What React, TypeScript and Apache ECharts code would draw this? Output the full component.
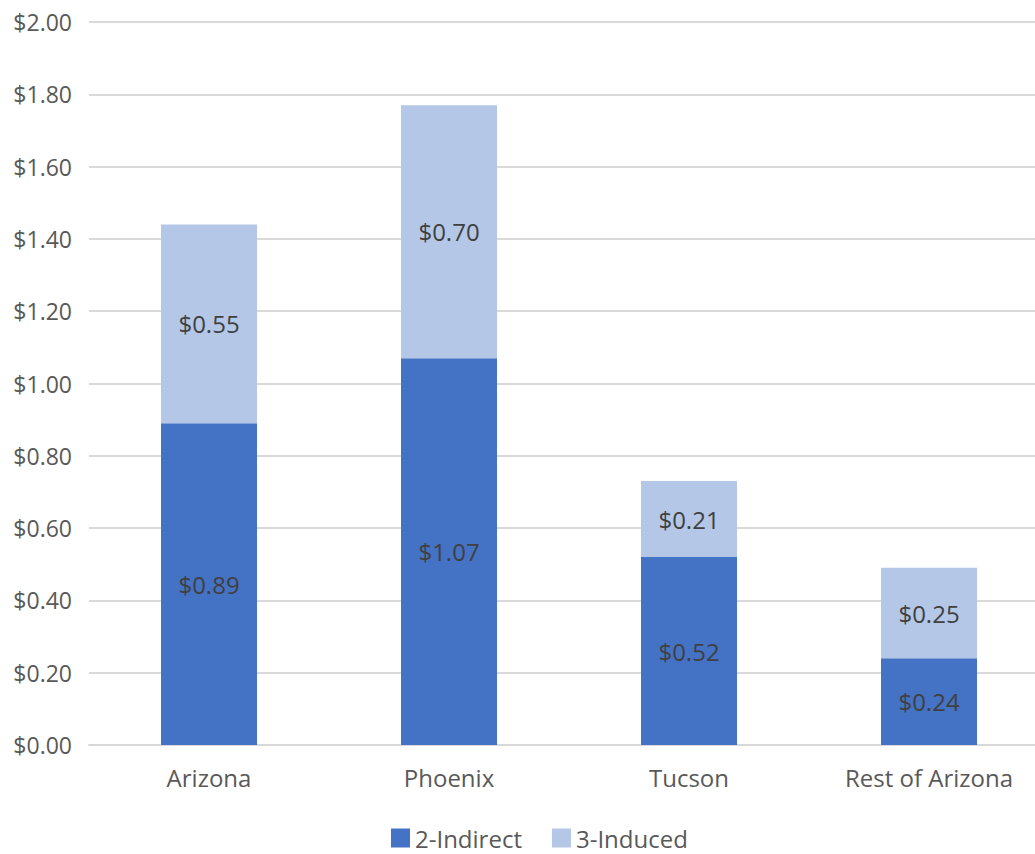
import React, { useEffect, useRef } from "react";
import * as echarts from "echarts";

const categories = ["Arizona", "Phoenix", "Tucson", "Rest of Arizona"];
const indirect = [0.89, 1.07, 0.52, 0.24];
const induced = [0.55, 0.7, 0.21, 0.25];
const seriesNames = ["2-Indirect", "3-Induced"];

const FONT = "'Open Sans', 'Noto Sans', sans-serif";
const FS = 24;

export default function App() {
  const ref = useRef<HTMLDivElement>(null);
  useEffect(() => {
    if (!ref.current) return;
    const chart = echarts.init(ref.current, undefined, { renderer: "svg" });
    const label = {
      show: true,
      position: "inside",
      color: "#404040",
      fontSize: FS,
      fontFamily: FONT,
      formatter: (p: any) => "$" + Number(p.value).toFixed(2),
    };
    chart.setOption({
      animation: false,
      textStyle: { fontFamily: FONT },
      grid: { left: 89, right: 1, top: 22, bottom: 109, containLabel: false },
      legend: {
        bottom: 4,
        left: 391,
        padding: 0,
        itemWidth: 19,
        itemHeight: 19,
        itemGap: 30,
        icon: "rect",
        textStyle: { color: "#595959", fontSize: FS, fontFamily: FONT, lineHeight: 24 },
        data: seriesNames,
      },
      xAxis: {
        type: "category",
        data: categories,
        axisLine: { show: true, lineStyle: { color: "#d9d9d9", width: 2 } },
        axisTick: { show: false },
        axisLabel: { color: "#595959", fontSize: FS, fontFamily: FONT, margin: 20 },
      },
      yAxis: {
        type: "value",
        min: 0,
        max: 2,
        interval: 0.2,
        axisLine: { show: false },
        axisTick: { show: false },
        splitLine: { lineStyle: { color: "#d9d9d9", width: 2 } },
        axisLabel: {
          color: "#595959",
          fontSize: 23,
          fontFamily: FONT,
          margin: 17,
          formatter: (v: number) => "$" + v.toFixed(2),
        },
      },
      series: [
        {
          name: seriesNames[0],
          type: "bar",
          stack: "total",
          data: indirect,
          barWidth: 96,
          itemStyle: { color: "#4472C4" },
          label,
        },
        {
          name: seriesNames[1],
          type: "bar",
          stack: "total",
          data: induced,
          barWidth: 96,
          itemStyle: { color: "#B4C7E7" },
          label,
        },
      ],
    });
    return () => chart.dispose();
  }, []);
  return (
    <div
      style={{
        position: "fixed",
        left: 0,
        top: 0,
        width: 1035,
        height: 854,
        overflow: "hidden",
        background: "#fff",
      }}
    >
      <div ref={ref} style={{ width: 1050, height: 854 }} />
    </div>
  );
}
